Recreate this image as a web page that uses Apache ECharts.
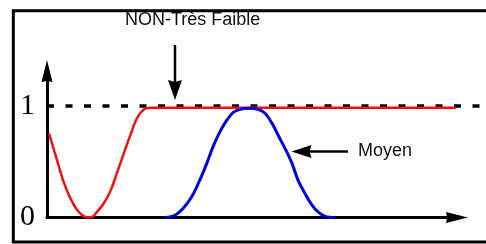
<!DOCTYPE html>
<html>
<head>
<meta charset="utf-8">
<script src="https://cdn.jsdelivr.net/npm/echarts@6/dist/echarts.min.js"></script>
<style>
  html, body { margin: 0; padding: 0; background: #fff; }
  #chart { width: 486px; height: 244px; }
</style>
</head>
<body>
<div id="chart"></div>
<script>
// values (x = horizontal position along the axis, y = degree 0..1)
const redX = [2, 7, 12, 17, 24, 30, 37, 44, 50, 57, 64, 70, 77, 84, 90, 97, 104, 409];
const redY = [0.755, 0.605, 0.455, 0.31, 0.16, 0.07, 0.01, 0, 0.05, 0.13, 0.25, 0.40, 0.58, 0.755, 0.89, 0.97, 0.985, 0.985];

const blueX = [118, 128, 136, 145, 153, 160, 166, 173, 180, 186, 193, 202, 211, 218, 225, 231, 238, 245, 251, 258, 265, 271, 278, 288];
const blueY = [0, 0.02, 0.08, 0.19, 0.34, 0.49, 0.635, 0.77, 0.875, 0.94, 0.97, 0.98, 0.97, 0.935, 0.845, 0.74, 0.62, 0.485, 0.335, 0.215, 0.11, 0.05, 0.01, 0];

const refX = [0, 439];   // dashed level line, runs out to the picture edge
const refLevel = 1;

const yTicks = [0, 1];

const pairs = (xs, ys) => xs.map((x, i) => [x, ys[i]]);

const arrowPath = 'path://M5,0L10,20L5,19L0,20Z';
const yMax = 1.314;

let myChart = echarts.init(document.getElementById('chart'), null, { renderer: 'canvas' });
myChart.setOption({
  animation: false,
  backgroundColor: '#fff',
  grid: [
    { left: 47, right: 29, top: 71, bottom: 26.5, outerBoundsMode: 'none' },
    // same vertical scale, wider: only for the dashed level line
    { left: 47, right: 0, top: 71, bottom: 26.5, outerBoundsMode: 'none' }
  ],
  xAxis: [
    {
      type: 'value',
      gridIndex: 0,
      min: 0,
      max: 410,
      axisLine: {
        lineStyle: { color: '#000', width: 3 },
        symbol: ['none', arrowPath],
        symbolSize: [13, 22]
      },
      axisTick: { show: false },
      axisLabel: { show: false },
      splitLine: { show: false },
      z: 1
    },
    { type: 'value', gridIndex: 1, min: 0, max: 439, show: false }
  ],
  yAxis: [
    {
      type: 'value',
      gridIndex: 0,
      min: 0,
      max: yMax,
      interval: 1,
      axisLine: {
        show: true,
        lineStyle: { color: '#000', width: 3 },
        symbol: ['none', arrowPath],
        symbolSize: [14, 22]
      },
      axisTick: { show: false },
      splitLine: { show: false },
      axisLabel: {
        margin: 12,
        color: '#000',
        fontFamily: 'Liberation Serif',
        fontSize: 30,
        padding: [0, 0, 6, 0],
        formatter: v => (yTicks.indexOf(v) >= 0 ? String(v) : '')
      }
    },
    { type: 'value', gridIndex: 1, min: 0, max: yMax, show: false }
  ],
  series: [
    {
      type: 'line',
      xAxisIndex: 1,
      yAxisIndex: 1,
      data: refX.map(x => [x, refLevel]),
      symbol: 'none',
      silent: true,
      lineStyle: { color: '#000', width: 3.5, type: [7, 11.5] },
      z: 2
    },
    {
      type: 'line',
      data: pairs(redX, redY),
      symbol: 'none',
      smooth: 0.35,
      lineStyle: { color: '#ee1111', width: 2.5 },
      z: 3
    },
    {
      type: 'line',
      data: pairs(blueX, blueY),
      symbol: 'none',
      smooth: 0.35,
      lineStyle: { color: '#0000dd', width: 3 },
      z: 3
    }
  ],
  graphic: [
    // frame (open on the right)
    {
      type: 'polyline',
      shape: { points: [[486, 10.8], [13.3, 10.8], [13.3, 242], [486, 242]] },
      style: { stroke: '#000', lineWidth: 3, fill: null }
    },
    // "NON-Très Faible" pointer
    { type: 'line', shape: { x1: 175, y1: 45, x2: 175, y2: 82 }, style: { stroke: '#000', lineWidth: 2.5 } },
    { type: 'polygon', shape: { points: [[175, 100], [168, 80], [175, 82], [182, 80]] }, style: { fill: '#000' } },
    {
      type: 'text',
      style: {
        text: 'NON-Très Faible', x: 125, y: 20,
        font: '18px "Liberation Sans"', fill: '#111',
        textAlign: 'left', textVerticalAlign: 'middle', align: 'left', verticalAlign: 'middle'
      }
    },
    // "Moyen" pointer
    { type: 'line', shape: { x1: 309, y1: 151.5, x2: 348, y2: 151.5 }, style: { stroke: '#000', lineWidth: 2.5 } },
    { type: 'polygon', shape: { points: [[291.5, 151.5], [311.5, 145], [309.5, 151.5], [311.5, 158]] }, style: { fill: '#000' } },
    {
      type: 'text',
      style: {
        text: 'Moyen', x: 358, y: 151.5,
        font: '18px "Liberation Sans"', fill: '#111',
        textAlign: 'left', textVerticalAlign: 'middle', align: 'left', verticalAlign: 'middle'
      }
    }
  ]
});
</script>
</body>
</html>
